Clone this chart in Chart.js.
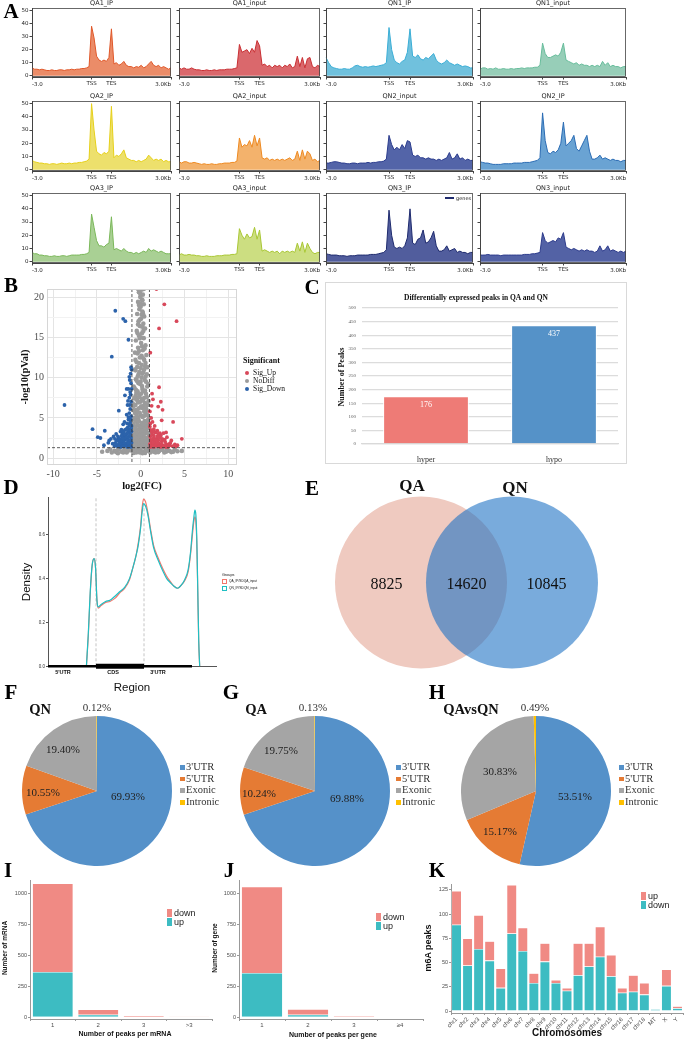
<!DOCTYPE html>
<html>
<head>
<meta charset="utf-8">
<title>m6A peaks figure</title>
<script src="https://cdn.jsdelivr.net/npm/chart.js@4.4.1/dist/chart.umd.min.js"></script>
<style>
  body { margin: 0; background: #fff; }
  #fig { position: relative; width: 685px; height: 1042px; overflow: hidden; background: #fff; }
  #fig canvas { position: absolute; }
  .t { position: absolute; white-space: nowrap; line-height: 1; color: #111; }
  .serif { font-family: "Liberation Serif", "Times New Roman", serif; }
  .sans { font-family: "Liberation Sans", Arial, sans-serif; }
  .dv { font-family: "DejaVu Sans", sans-serif; }
  .box { position: absolute; box-sizing: border-box; }
</style>
</head>
<body>
<div id="fig"></div>
<script>
// --- Panel A: metagene profiles (57 bins, -3.0kb .. TSS .. TES .. 3.0Kb) ---
const profTickIdx = [0, 24, 32, 56];
const profTickText = ["-3.0", "TSS", "TES", "3.0Kb"];
const profYTicks = [0, 10, 20, 30, 40, 50];

const qa1IP = [6,5,5,4.5,5,4.5,4,4,4.5,4,4,4.5,4.5,4,4.5,4.5,5,4.5,5,5,5.5,5.5,6,7,
  38,29,15,12,11,12,11,14,36,
  9,10,8,9,11,8,7,7,6,7,6.5,8,6,7,9,11,8,7,8,6,7,6,5,6];
const qa1Input = [6,5,6,5,5,6,5,4.5,4.5,4,4,4.5,4,4,4.5,4,4.5,4.5,4.5,5,5,5,5.5,6,
  24,18,19,20,17,21,18,27,23,
  8,9,7,8,6,8,7,8,6,8,7,9,6,7,15,7,14,6,13,14,7,6,8,7];
const qn1IP = [14,10,7,6,5.5,5,5,5.5,5,5,6,7.5,8,7,6.5,7,6.5,7,7.5,7,7.5,8,8.5,10,
  37,20,12,10,9,11,12,18,36,
  15,14,16,13,12,14,13,15,17,12,10,9,10,12,10,9,8,9,8,7,7.5,7,6,6];
const qn1Input = [5,6,6,5,5.5,5,6,5,5,5.5,5,5,5.5,5,5.5,5.5,6,5.5,6,6,6,6.5,6.5,8,
  25,17,14,14,15,16,15,18,25,
  12,11,10,9,10,8,9,8,8,7,8,7,8,7,11,8,10,7,8,7,7,6,7,7];
const qa2IP = [7,6,5.5,5,5,4.5,4.5,4,4.5,4.5,4,4.5,5,4.5,4.5,5,4.5,5,5,5.5,5.5,6,6.5,8,
  50,30,14,12,11,13,12,14,48,
  9,11,10,12,15,9,8,7,7,6,7,6,7,8,11,9,7,8,7,8,6,7,6,6];
const qa2Input = [6,5,6,6,5,5,5.5,5,4.5,4,4.5,4,4,4.5,4,4,4.5,4.5,5,5,5,5.5,5.5,6.5,
  24,17,19,18,22,17,26,18,24,
  9,8,9,7,8,7,8,7,8,7,8,9,7,8,14,7,15,8,14,12,7,8,6,7];
const qn2Input = [5,5,5.5,6,6,5.5,5,5,4.5,4.5,5,5,4.5,5,5,5,5.5,5,5.5,5.5,6,6,6.5,8,
  26,19,15,17,15,19,16,22,21,
  11,10,11,9,9,8,9,8,8,7,8,7,8,9,13,8,9,12,8,9,7,8,7,7];
const qn2IP = [6,5.5,5,5,4.5,4,4,4,4,4.5,4.5,4.5,4.5,5,5,5,5,5.5,5.5,5.5,6,6.5,7,9,
  43,22,13,12,14,13,15,20,36,
  18,20,22,26,16,14,18,22,26,14,8,8,9,11,8,9,8,7,8,7,7,6,7,7];
const qa3IP = [7,6,6,5,5,4.5,4.5,4,4,4.5,4,4,4.5,4.5,4,4.5,5,5,5,5,5.5,5.5,6,7,
  36,26,16,12,12,11,13,14,34,
  9,10,9,8,10,8,7,7,6,7,6,7,8,7,10,8,9,8,7,8,7,6,6,6];
const qa3Input = [5,6,5,5,5.5,5,5,4.5,4.5,4,4,4.5,4,4,4,4.5,4.5,4.5,5,5,5,5.5,5.5,6,
  25,20,17,21,18,19,26,17,24,
  8,9,8,7,8,7,8,6,8,7,8,7,8,7,14,8,15,7,14,10,7,6,7,7];
const qn3IP = [6,5.5,5,5,5,4.5,4.5,4.5,4,4.5,4.5,4.5,5,5,5,5,5,5.5,5.5,5.5,6,6.5,7,9,
  39,20,11,10,11,10,12,18,40,
  14,13,17,18,24,14,15,18,23,12,8,8,9,12,8,9,10,7,8,7,7,6,7,7];
const qn3Input = [5,5,5,5.5,5,5,5,5,4.5,5,5,5,5,5,5,5,5,5.5,5.5,5.5,6,6,6.5,7,
  22,16,14,15,16,15,18,17,22,
  11,10,9,10,9,8,9,8,9,8,8,7,8,12,8,9,12,8,9,8,7,8,7,8];

// --- Panel B: volcano ---
const volUp = [[1.1,1.4],[1.3,1.7],[1.5,1.4],[1.7,1.6],[1.9,1.5],[2.1,1.8],[2.3,1.4],[2.5,1.6],[2.7,1.5],[2.9,1.7],
  [3.1,1.4],[3.3,1.6],[3.6,1.5],[3.9,1.7],[4.2,1.6],[1.2,2.0],[1.4,2.3],[1.6,2.1],[1.8,2.4],[2.0,2.2],
  [2.2,2.5],[2.4,2.1],[2.6,2.3],[2.8,2.0],[3.0,2.6],[1.1,2.7],[1.3,3.0],[1.5,2.8],[1.7,3.2],[2.0,3.0],
  [2.3,2.8],[2.6,3.1],[4.7,2.4],[3.7,4.5],[2.4,4.7],[1.6,4.0],[1.2,5.0],[1.5,3.6],[2.5,6.0],[2.0,6.4],
  [2.3,7.0],[1.4,7.3],[1.3,8.0],[2.1,8.8],[1.1,13.1],[2.1,16.1],[2.7,19.1],[4.1,17.0],[1.8,21.0],[1.1,4.3],
  [1.2,1.55],[1.6,1.75],[2.2,1.55],[3.4,1.9],[1.9,2.7],[1.15,3.5],
  [1.05,1.75],[1.35,1.45],[1.45,1.9],[1.85,1.85],[2.05,1.45],[2.35,1.75],[2.6,1.45],[2.85,1.4],[3.2,1.75],[1.15,2.3],
  [1.5,2.55],[1.75,2.25],[2.1,2.6],[2.45,2.4],[2.75,2.3],[1.25,3.3],[1.55,3.25],[1.9,3.4],[2.2,3.1],[1.05,3.9],
  [1.35,4.5],[1.05,5.8],[1.25,6.5],[3.5,2.2],[4.0,1.45],[2.9,3.2]];
const volDown = [[-1.1,1.4],[-1.3,1.6],[-1.5,1.4],[-1.7,1.7],[-1.9,1.5],[-2.1,1.8],[-2.3,1.4],[-2.5,1.7],[-2.7,1.5],[-2.9,1.9],
  [-1.2,2.0],[-1.4,2.2],[-1.6,1.9],[-1.8,2.3],[-2.0,2.1],[-2.2,2.4],[-2.4,2.0],[-2.6,2.3],[-1.1,2.5],[-1.3,2.7],
  [-1.5,2.5],[-1.7,2.9],[-1.9,2.6],[-2.1,3.0],[-1.2,3.1],[-1.4,3.3],[-1.6,3.0],[-1.8,3.5],[-1.1,3.7],[-1.3,4.0],
  [-1.5,3.8],[-1.2,4.4],[-1.4,4.8],[-1.1,5.2],[-1.3,5.6],[-1.6,5.4],[-1.2,6.1],[-1.5,6.6],[-1.1,7.0],[-1.3,7.5],
  [-1.8,7.8],[-1.2,8.2],[-1.6,8.6],[-1.4,8.6],[-1.1,9.3],[-1.05,11.0],[-1.1,11.3],[-1.3,10.1],
  [-2.9,18.3],[-2.0,17.3],[-1.75,17.0],[-1.4,14.7],[-3.3,12.6],[-8.7,6.6],[-2.5,5.9],[-5.5,3.6],[-4.1,3.4],
  [-4.9,2.6],[-4.6,2.5],[-3.4,2.4],[-3.7,1.9],[-4.2,1.6],[-3.1,2.7],[-2.3,3.3],[-2.8,3.0],[-3.0,1.5],[-2.0,4.2],
  [-1.25,1.5],[-1.65,1.55],[-2.15,1.5],[-2.45,1.95],[-1.55,2.35],[-1.95,3.3],[-2.6,2.7],[-1.15,4.8],
  [-1.05,1.9],[-1.35,1.45],[-1.45,1.85],[-1.85,1.85],[-2.05,1.45],[-2.35,1.75],[-2.55,1.45],[-2.8,1.7],[-1.15,2.25],[-1.45,2.6],
  [-1.75,2.55],[-2.05,2.45],[-2.3,2.15],[-2.5,2.45],[-2.75,2.2],[-1.25,2.85],[-1.55,3.15],[-1.85,2.95],[-2.2,2.75],[-1.05,3.3],
  [-1.35,3.55],[-1.65,3.6],[-2.2,3.55],[-1.25,4.2],[-1.55,4.3],[-1.05,4.0],[-1.85,4.5],[-1.4,5.1],[-1.25,6.6],[-1.45,7.1],
  [-1.15,7.9],[-1.05,8.6],[-1.25,9.7],[-1.15,10.5],[-3.2,1.8],[-2.95,2.4],[-3.6,2.2]];
const volNoDiff = [[0.1,20.9],[-0.2,20.6],[0.25,20.3],[-0.05,20.0],[0.15,19.7],[-0.3,19.4],[0.35,19.1],[0.0,18.8],[-0.15,18.5],[0.2,18.2],
  [-0.4,17.9],[0.4,17.6],[0.05,17.3],[-0.25,17.0],[0.3,16.7],[-0.1,16.4],[0.5,16.1],[-0.45,15.8],[0.15,15.5],[-0.2,15.2],
  [0.35,14.9],[-0.55,14.6],[0.05,14.3],[0.55,14.0],[-0.3,13.7],[0.25,13.4],[-0.65,13.1],[0.65,12.8],[-0.1,12.5],[0.4,12.2],
  [-0.45,11.9],[0.1,11.6],[0.75,11.3],[-0.7,11.0],[0.3,10.7],[-0.25,10.4],[0.55,10.1],[-0.55,9.8],[0.0,9.5],[0.85,9.2],
  [-0.8,8.9],[0.2,8.6],[-0.35,8.3],[0.6,8.0],[-0.6,7.7],[0.1,7.4],[0.9,7.1],[-0.9,6.8],[0.35,6.5],[-0.2,6.2],
  [0.7,5.9],[-0.65,5.6],[0.05,5.3],[0.95,5.0],[-0.95,4.8],[0.45,4.6],[-0.4,4.4],[0.8,4.2],[-0.75,4.0],[0.15,3.8],
  [-0.15,3.6],[0.6,3.4],[-0.55,3.2],[0.95,3.0],[-0.9,2.9],[0.3,2.8],[-0.3,2.6],[0.75,2.5],[-0.7,2.4],[0.05,2.3],
  [0.5,2.1],[-0.5,2.0],[0.9,1.9],[-0.85,1.8],[0.2,1.7],[-0.2,1.6],[0.65,1.5],[-0.65,1.45],[0.4,1.35],[-0.4,1.3],
  [-0.95,1.4],[0.95,1.4],[-0.1,1.9],[0.1,2.6],[-0.45,2.9],[0.55,3.1],[-0.8,3.5],[0.35,3.9],[-0.35,4.1],[0.7,4.5],
  [-0.6,4.7],[0.2,5.1],[-0.3,5.0],[0.55,5.5],[-0.5,6.0],[0.25,6.2],[-0.85,6.4],[0.8,6.6],[0.0,7.0],[-0.4,7.2],
  [0.45,7.5],[-0.15,7.9],[0.3,8.3],[-0.55,8.5],[0.75,8.9],[-0.05,9.2],[0.45,9.7],[-0.35,10.1],[0.2,10.5],[-0.6,10.9],
  [0.5,11.4],[-0.2,11.8],[0.3,12.4],[-0.35,13.0],[0.15,13.9],[-0.1,14.9],[0.3,15.8],[-0.3,16.6],[0.1,17.8],[0.0,19.2],
  [-0.05,20.4],[0.12,21.0],[-0.3,21.0],[0.35,21.0],
  [-0.75,1.6],[-0.55,1.7],[-0.3,1.8],[0.05,1.5],[0.3,1.55],[0.55,1.75],[0.8,1.6],[-0.9,2.1],[-0.6,2.2],[-0.35,2.3],
  [-0.15,2.1],[0.15,2.0],[0.35,2.25],[0.65,2.2],[0.85,2.35],[-0.8,2.7],[-0.55,2.6],[-0.1,2.75],[0.45,2.6],[0.9,2.65],
  [-0.65,3.0],[-0.3,3.1],[0.0,2.95],[0.25,3.2],[0.75,3.15],[-0.95,3.6],[-0.45,3.5],[0.0,3.4],[0.4,3.45],[0.8,3.7],
  [-0.6,3.85],[-0.05,4.0],[0.55,3.95],[-0.85,4.3],[0.1,4.35],[0.35,4.2],[-0.2,4.6],[0.85,4.75],[-0.75,5.0],[-0.45,5.25],
  [0.35,5.2],[0.75,5.35],[-0.1,5.6],[0.4,5.8],[-0.35,5.75],[-0.8,5.95],[0.6,6.2],[0.05,6.45],[-0.6,6.6],[0.5,6.85],
  [-0.3,6.9],[0.25,7.2],[-0.75,7.4],[0.7,7.6],[-0.2,7.6],[0.05,8.0],[-0.5,8.1],[0.5,8.4],[-0.7,8.7],[0.15,8.95],
  [-0.25,9.3],[0.6,9.5],[-0.45,9.6],[0.1,10.0],[0.7,10.4],[-0.15,10.7],[0.4,11.0],[-0.4,11.3],[0.0,11.2],[0.55,11.8],
  [-0.6,12.2],[0.1,12.7],[-0.2,13.3],[0.45,13.6],[0.0,15.0],[-0.35,15.5],[0.2,16.3],[-0.1,17.2],[0.25,18.0],[-0.2,19.0],[0.2,19.6],
  [-3.0,0.9],[-2.6,1.05],[-2.2,0.8],[-1.8,1.1],[-1.5,0.85],[-1.2,1.0],[-0.9,0.8],[-0.6,1.1],[-0.3,0.9],[0.0,1.0],
  [0.3,0.8],[0.6,1.1],[0.9,0.9],[1.2,1.0],[1.5,0.8],[1.8,1.1],[2.1,0.9],[2.5,1.0],[2.9,0.8],[3.3,0.9],
  [-2.4,1.2],[-1.0,1.2],[1.0,1.2],[2.3,1.2],[-4.4,0.8],[3.7,0.8],[4.7,0.9],[-3.5,1.1],[3.9,1.1],[-0.1,0.7],
  [0.5,0.65],[-0.5,0.7],[-2.0,0.7],[1.7,0.7],[-1.4,1.25],[1.4,1.25],
  [-3.3,0.7],[-2.8,0.75],[-1.6,0.7],[-0.8,0.65],[0.2,0.6],[1.1,0.7],[2.0,0.75],[2.7,0.7],[3.5,0.75],[-3.8,0.9],
  [4.2,0.85],[-1.9,0.95],[1.3,0.95],[-0.7,0.95],[0.7,0.95],[-2.6,0.6],[3.0,1.1]];
const fcCut = [-1, 1];
const pCut = 1.3;
const volXTicks = [-10, -7.5, -5, -2.5, 0, 2.5, 5, 7.5, 10];
const volYTicks = [0, 2.5, 5, 7.5, 10, 12.5, 15, 17.5, 20];

// --- Panel C ---
const degCats = ["hyper", "hypo"];
const degValues = [176, 437];

// --- Panel D: density over transcript regions ---
const regionEdges = [0, 1, 2, 3];
const regionNames = ["5'UTR", "CDS", "3'UTR"];
const densX = [0.80,0.84,0.88,0.92,0.96,0.99,1.02,1.05,1.10,1.20,1.29,1.40,1.50,1.60,1.70,1.77,1.83,1.88,1.93,1.96,
  1.99,2.03,2.08,2.14,2.20,2.30,2.40,2.47,2.55,2.62,2.70,2.78,2.85,2.92,2.97,3.01,3.04,3.06,3.08,3.10,3.12,3.14,3.16];
const qnDens = [0,0.15,0.34,0.46,0.49,0.45,0.30,0.27,0.28,0.295,0.30,0.32,0.34,0.36,0.40,0.45,0.50,0.55,0.63,0.70,
  0.74,0.73,0.69,0.61,0.54,0.48,0.43,0.40,0.38,0.365,0.355,0.37,0.395,0.44,0.52,0.62,0.68,0.71,0.69,0.58,0.35,0.12,0];
const qaDens = [0,0.14,0.33,0.46,0.49,0.45,0.30,0.265,0.275,0.29,0.295,0.31,0.335,0.355,0.395,0.45,0.50,0.56,0.64,0.72,
  0.76,0.75,0.70,0.62,0.55,0.49,0.44,0.41,0.385,0.365,0.355,0.37,0.39,0.43,0.51,0.60,0.66,0.68,0.66,0.56,0.34,0.11,0];
const densYTicks = [0, 0.2, 0.4, 0.6];

// --- Panel E: Venn ---
const vennSets = ["QA", "QN"];
const vennCounts = [8825, 14620, 10845];

// --- Panels F-H: peak distribution ---
const pieCats = ["3'UTR", "5'UTR", "Exonic", "Intronic"];
const qnPie = [69.93, 10.55, 19.40, 0.12];
const qaPie = [69.88, 10.24, 19.75, 0.13];
const qavsqnPie = [53.51, 15.17, 30.83, 0.49];

// --- Panels I-K ---
const mrnaCats = ["1", "2", "3", ">3"];
const mrnaUp = [366, 20, 4, 1];
const mrnaDown = [716, 43, 9, 3];
const geneCats = ["1", "2", "3", "\u22654"];
const geneUp = [358, 20, 2, 1];
const geneDown = [699, 45, 5, 2];
const chrCats = ["chr1","chr2","chr3","chr4","chr5","chr6","chr7","chr8","chr9","chr10","chr11","chr12",
  "chr13","chr14","chr15","chr16","chr17","chr18","MT","X","Y"];
const chrDown = [89,47,64,52,24,80,62,29,51,29,21,37,46,56,36,19,20,17,2,26,3];
const chrUp = [35,28,35,20,20,50,24,10,19,3,3,33,24,31,22,5,17,12,0,17,2];
const peakTicks = [0, 250, 500, 750, 1000];
const chrTicks = [0, 25, 50, 75, 100, 125];

// --- setup ---
const serifF = '"Liberation Serif", "Times New Roman", serif';
const sansF = '"Liberation Sans", Arial, sans-serif';
const dvF = '"DejaVu Sans", sans-serif';
Chart.defaults.animation = false;
Chart.defaults.responsive = false;
Chart.defaults.maintainAspectRatio = false;
Chart.defaults.plugins.legend.display = false;
Chart.defaults.plugins.tooltip.enabled = false;
Chart.defaults.font.family = dvF;

const fig = document.getElementById("fig");
const SALMON = "#f08a84", TEAL = "#3dbcc2";
const PIE_COLORS = ["#5591c9", "#e57b34", "#a5a5a5", "#ffc000"];

function addCanvas(x, y, w, h) {
    const c = document.createElement("canvas");
    c.width = w; c.height = h;
    c.style.left = x + "px"; c.style.top = y + "px";
    c.style.width = w + "px"; c.style.height = h + "px";
    fig.appendChild(c);
    return c;
}

function txt(s, x, y, css, o = {}) {
    const d = document.createElement("div");
    d.className = "t " + (o.cls || "serif");
    d.textContent = s;
    d.style.cssText += css;
    d.style.left = x + "px";
    d.style.top = y + "px";
    const ax = o.align === "l" ? "0" : o.align === "r" ? "-100%" : "-50%";
    d.style.transform = `translate(${ax},-50%)` + (o.rot ? ` rotate(${o.rot}deg)` : "");
    fig.appendChild(d);
    return d;
}

function rect(x, y, w, h, css) {
    const d = document.createElement("div");
    d.className = "box";
    d.style.cssText = `left:${x}px;top:${y}px;width:${w}px;height:${h}px;` + css;
    fig.appendChild(d);
    return d;
}

const frame = (color, width = 1) => ({
    id: "frame",
    afterDraw(chart) {
        const a = chart.chartArea, c = chart.ctx;
        c.save();
        c.strokeStyle = color; c.lineWidth = width;
        c.strokeRect(a.left + 0.5, a.top + 0.5, a.right - a.left - 1, a.bottom - a.top - 1);
        c.restore();
    }
});

const pts = arr => arr.map(p => ({ x: p[0], y: p[1] }));

// --- Panel A ---
const colBox = [[32, 171], [179, 320], [326, 473], [480, 626]];
const rowBox = [[8, 77], [101, 171], [193, 263]];
const profiles = [
    { title: "QA1_IP", data: qa1IP, line: "#e0582a", fill: "rgba(233,128,88,0.9)" },
    { title: "QA1_input", data: qa1Input, line: "#c92f33", fill: "rgba(214,88,92,0.9)" },
    { title: "QN1_IP", data: qn1IP, line: "#3aaed6", fill: "rgba(104,190,219,0.95)" },
    { title: "QN1_input", data: qn1Input, line: "#68bd9c", fill: "rgba(145,203,180,0.95)" },
    { title: "QA2_IP", data: qa2IP, line: "#e6d01a", fill: "rgba(236,222,100,0.95)" },
    { title: "QA2_input", data: qa2Input, line: "#ee8a22", fill: "rgba(242,174,100,0.95)" },
    { title: "QN2_input", data: qn2Input, line: "#2c3d8e", fill: "rgba(74,92,163,0.95)" },
    { title: "QN2_IP", data: qn2IP, line: "#2b6cb4", fill: "rgba(98,158,209,0.95)" },
    { title: "QA3_IP", data: qa3IP, line: "#7bb85a", fill: "rgba(164,206,142,0.95)" },
    { title: "QA3_input", data: qa3Input, line: "#a9c734", fill: "rgba(201,220,122,0.95)" },
    { title: "QN3_IP", data: qn3IP, line: "#1f2b6e", fill: "rgba(72,84,152,0.95)" },
    { title: "QN3_input", data: qn3Input, line: "#2e3c8c", fill: "rgba(74,90,160,0.95)" }
];

profiles.forEach((p, k) => {
    const col = k % 4, row = Math.floor(k / 4);
    const [L, R] = colBox[col], [T, B] = rowBox[row];
    const padL = 24, padT = 5, padR = 8, axH = 12;
    const cv = addCanvas(L - padL, T - padT, R - L + padL + padR, B - T + padT + axH);
    new Chart(cv, {
        type: "line",
        data: {
            labels: p.data.map((_, i) => i),
            datasets: [{
                data: p.data, borderColor: p.line, backgroundColor: p.fill,
                borderWidth: 1, fill: "origin", pointRadius: 0, tension: 0,
            }],
        },
        options: {
            layout: { padding: { top: padT, right: padR } },
            scales: {
                x: {
                    afterFit: s => { s.height = axH; },
                    grid: { drawOnChartArea: false, tickLength: 2.5, color: "#444" },
                    border: { color: "#444" },
                    ticks: {
                        autoSkip: false, maxRotation: 0, padding: 1,
                        font: { size: 5.5 }, color: "#222",
                        callback: (v, i) => {
                            const j = profTickIdx.indexOf(i);
                            if (j < 0) return null;
                            return (j === 1 || j === 2) ? profTickText[j] : "";
                        },
                    },
                },
                y: {
                    min: -1, max: 52,
                    afterFit: s => { s.width = padL; },
                    afterBuildTicks: s => { s.ticks = profYTicks.map(v => ({ value: v })); },
                    grid: { drawOnChartArea: false, tickLength: 2.5, color: "#444" },
                    border: { color: "#444" },
                    ticks: { padding: 1, font: { size: 5.5 }, color: "#222", callback: v => col === 0 ? v : "" },
                },
            },
        },
        plugins: [frame("#444", 0.8)],
    });
    txt(p.title, (L + R) / 2, T - 5, "font-size:6.5px;color:#222;", { cls: "dv" });
    txt(profTickText[0], L, B + 7.5, "font-size:5.5px;color:#222;", { cls: "dv", align: "l" });
    txt(profTickText[3], R, B + 7.5, "font-size:5.5px;color:#222;", { cls: "dv", align: "r" });
    if (p.title === "QN3_IP") {
        rect(R - 28, T + 4, 9, 1.5, "background:" + p.line + ";");
        txt("genes", R - 17, T + 5, "font-size:5px;color:#222;", { cls: "dv", align: "l" });
    }
});

// --- Panel B: volcano ---
const volCuts = {
    id: "volCuts",
    afterDatasetsDraw(chart) {
        const { ctx, chartArea: a, scales: { x, y } } = chart;
        ctx.save();
        ctx.strokeStyle = "#333"; ctx.lineWidth = 0.8; ctx.setLineDash([3, 2]);
        fcCut.forEach(v => {
            const px = x.getPixelForValue(v);
            ctx.beginPath(); ctx.moveTo(px, a.top); ctx.lineTo(px, a.bottom); ctx.stroke();
        });
        const py = y.getPixelForValue(pCut);
        ctx.beginPath(); ctx.moveTo(a.left, py); ctx.lineTo(a.right, py); ctx.stroke();
        ctx.restore();
    }
};
const gridCol = c => (c.tick && c.tick.value % 5 === 0) ? "#e4e4e4" : "#f2f2f2";
new Chart(addCanvas(0, 280, 300, 201), {
    type: "scatter",
    data: {
        datasets: [
            { data: pts(volUp), backgroundColor: "#d8485a", pointRadius: 1.9, borderWidth: 0 },
            { data: pts(volDown), backgroundColor: "#2c63ab", pointRadius: 1.9, borderWidth: 0 },
            { data: pts(volNoDiff), backgroundColor: "#9b9b9b", pointRadius: 2.3, borderWidth: 0 },
        ],
    },
    options: {
        layout: { padding: { top: 6, right: 63 } },
        scales: {
            x: {
                type: "linear", min: -10.7, max: 11,
                afterFit: s => { s.height = 16; },
                afterBuildTicks: s => { s.ticks = volXTicks.map(v => ({ value: v })); },
                grid: { color: gridCol, drawTicks: false },
                border: { display: false },
                ticks: { padding: 3, font: { family: serifF, size: 10 }, color: "#4d4d4d", callback: v => v % 5 === 0 ? v : "" },
            },
            y: {
                min: -0.85, max: 21,
                afterFit: s => { s.width = 47; },
                afterBuildTicks: s => { s.ticks = volYTicks.map(v => ({ value: v })); },
                grid: { color: gridCol, drawTicks: false },
                border: { display: false },
                ticks: { padding: 3, font: { family: serifF, size: 10 }, color: "#4d4d4d", callback: v => v % 5 === 0 ? v : "" },
            },
        },
    },
    plugins: [frame("#d6d6d6"), volCuts],
});
txt("-log10(pVal)", 25, 377, "font-size:10.5px;font-weight:bold;", { rot: -90 });
txt("log2(FC)", 142, 486, "font-size:10.5px;font-weight:bold;");
txt("Significant", 243, 361, "font-size:8px;font-weight:bold;", { align: "l" });
[["Sig_Up", "#d8485a"], ["NoDiff", "#9b9b9b"], ["Sig_Down", "#2c63ab"]].forEach((e, i) => {
    rect(245, 371 + i * 8, 4, 4, "border-radius:50%;background:" + e[1] + ";");
    txt(e[0], 253, 373 + i * 8, "font-size:7.5px;", { align: "l" });
});

// --- Panel C ---
const barValues = {
    id: "barValues",
    afterDatasetsDraw(chart) {
        const ctx = chart.ctx, meta = chart.getDatasetMeta(0);
        ctx.save();
        ctx.font = "8px " + serifF; ctx.fillStyle = "#fff";
        ctx.textAlign = "center"; ctx.textBaseline = "middle";
        meta.data.forEach((bar, i) => ctx.fillText(String(degValues[i]), bar.x, bar.y + 9));
        ctx.restore();
    }
};
rect(325, 282, 302, 182, "border:1px solid #d9d9d9;");
new Chart(addCanvas(325, 282, 302, 182), {
    type: "bar",
    data: {
        labels: degCats,
        datasets: [{
            data: degValues, backgroundColor: ["#ee7b76", "#5592c8"],
            borderColor: "#fff", borderWidth: 1, barPercentage: 0.67, categoryPercentage: 1,
        }],
    },
    options: {
        layout: { padding: { top: 26, right: 9 } },
        scales: {
            x: {
                afterFit: s => { s.height = 20; },
                grid: { display: false },
                border: { color: "#d9d9d9", width: 1.3 },
                ticks: { padding: 3, font: { family: serifF, size: 8 }, color: "#333" },
            },
            y: {
                min: 0, max: 500,
                afterFit: s => { s.width = 37; },
                grid: { color: "#dcdcdc", lineWidth: 1.3, drawTicks: false },
                border: { display: false },
                ticks: { stepSize: 50, padding: 6, font: { family: serifF, size: 5 }, color: "#595959" },
            },
        },
    },
    plugins: [barValues],
});
txt("Differentially expressed peaks in QA and QN", 476, 298, "font-size:7.5px;font-weight:bold;");
txt("Number of  Peaks", 342, 377, "font-size:8px;font-weight:bold;", { rot: -90 });

// --- Panel D ---
const regionDash = {
    id: "regionDash",
    beforeDatasetsDraw(chart) {
        const { ctx, chartArea: a, scales: { x, y } } = chart;
        ctx.save();
        ctx.strokeStyle = "#c4c4c4"; ctx.lineWidth = 1; ctx.setLineDash([3, 2]);
        [regionEdges[1], regionEdges[2]].forEach(v => {
            const px = x.getPixelForValue(v);
            ctx.beginPath(); ctx.moveTo(px, y.getPixelForValue(0)); ctx.lineTo(px, a.top); ctx.stroke();
        });
        ctx.restore();
    }
};
const regionSeg = (i, w) => ({
    data: [{ x: regionEdges[i], y: 0 }, { x: regionEdges[i + 1], y: 0 }],
    borderColor: "#000", borderWidth: w, pointRadius: 0, clip: false, borderCapStyle: "butt",
});
new Chart(addCanvas(0, 490, 300, 180), {
    type: "line",
    data: {
        datasets: [
            regionSeg(0, 2.6), regionSeg(1, 5), regionSeg(2, 2.6),
            { data: densX.map((x, i) => ({ x, y: qnDens[i] })), borderColor: "#1fbfc3", borderWidth: 1.2, pointRadius: 0, cubicInterpolationMode: "monotone" },
            { data: densX.map((x, i) => ({ x, y: qaDens[i] })), borderColor: "#f3776d", borderWidth: 1.2, pointRadius: 0, cubicInterpolationMode: "monotone" },
        ],
    },
    options: {
        layout: { padding: { top: 7, right: 84 } },
        scales: {
            x: {
                type: "linear", min: 0, max: 3.5,
                afterFit: s => { s.height = 3; },
                ticks: { display: false }, grid: { display: false },
                border: { color: "#555" },
            },
            y: {
                min: 0, max: 0.77,
                afterFit: s => { s.width = 48; },
                afterBuildTicks: s => { s.ticks = densYTicks.map(v => ({ value: v })); },
                grid: { drawOnChartArea: false, tickLength: 2, color: "#555" },
                border: { color: "#555" },
                ticks: { padding: 1, font: { family: sansF, size: 4.5 }, color: "#333", callback: v => v.toFixed(1) },
            },
        },
    },
    plugins: [regionDash],
});
txt("Density", 27, 582, "font-size:11.5px;", { cls: "sans", rot: -90 });
txt("Region", 132, 688, "font-size:11.5px;", { cls: "sans" });
[63, 113, 158].forEach((x, i) => txt(regionNames[i], x, 673, "font-size:5.5px;font-weight:bold;", { cls: "sans" }));
txt("Groups", 222, 576, "font-size:3.8px;", { cls: "sans", align: "l" });
rect(222, 579, 5, 4.5, "border:0.8px solid #f3776d;");
rect(222, 586, 5, 4.5, "border:0.8px solid #1fbfc3;");
txt("QA_IP/SDQA_input", 229, 581.5, "font-size:3.2px;", { cls: "sans", align: "l" });
txt("QN_IP/SDQN_input", 229, 588.5, "font-size:3.2px;", { cls: "sans", align: "l" });

// --- Panel E: Venn ---
// chart area is the canvas inset by the layout padding (90px), so the scales map onto that inner box
const vennX = [0, 1];
const vennLabelX = [-0.38, 0.5, 1.38];
const vennText = {
    id: "vennText",
    afterDatasetsDraw(chart) {
        const { ctx, scales: { x, y } } = chart;
        ctx.save();
        ctx.font = "16px " + serifF; ctx.fillStyle = "#111";
        ctx.textAlign = "center"; ctx.textBaseline = "middle";
        vennCounts.forEach((n, i) => ctx.fillText(String(n), x.getPixelForValue(vennLabelX[i]), y.getPixelForValue(0) + 2));
        ctx.restore();
    }
};
new Chart(addCanvas(320, 490, 300, 185), {
    type: "bubble",
    data: {
        datasets: [
            { data: [{ x: vennX[1], y: 0, r: 86 }], backgroundColor: "rgba(24,110,195,0.58)", borderWidth: 0, clip: false },
            { data: [{ x: vennX[0], y: 0, r: 86 }], backgroundColor: "#efcac0", borderWidth: 0, clip: false },
        ],
    },
    options: {
        layout: { padding: 90 },
        scales: {
            x: { type: "linear", min: -0.121, max: 1.198, display: false },
            y: { type: "linear", min: -1, max: 1, display: false },
        },
    },
    plugins: [vennText],
});
txt(vennSets[0], 412, 485, "font-size:17px;font-weight:bold;");
txt(vennSets[1], 515, 487, "font-size:17px;font-weight:bold;");

// --- Panels F-H: pies ---
const pies = [
    { data: qnPie, cx: 97, title: "QN", tx: 40, small: 97, lab: [[128, 796], [43, 792], [63, 749]], lx: 180 },
    { data: qaPie, cx: 315, title: "QA", tx: 256, small: 313, lab: [[347, 798], [259, 793], [281, 750]], lx: 396 },
    { data: qavsqnPie, cx: 536, title: "QAvsQN", tx: 471, small: 535, lab: [[575, 796], [500, 831], [500, 771]], lx: 619 },
];
pies.forEach(p => {
    new Chart(addCanvas(p.cx - 75, 791 - 75, 150, 150), {
        type: "pie",
        data: { labels: pieCats, datasets: [{ data: p.data, backgroundColor: PIE_COLORS, borderWidth: 0 }] },
        options: { layout: { padding: 0 } },
    });
    txt(p.title, p.tx, 709, "font-size:14.5px;font-weight:bold;");
    txt(p.data[3].toFixed(2) + "%", p.small, 707, "font-size:11px;color:#333;");
    p.lab.forEach((xy, i) => txt(p.data[i].toFixed(2) + "%", xy[0], xy[1], "font-size:11px;color:#222;"));
    pieCats.forEach((c, i) => {
        rect(p.lx, 765 + i * 11.7, 4.5, 4.5, "background:" + PIE_COLORS[i] + ";");
        txt(c, p.lx + 6, 767 + i * 11.7, "font-size:10.5px;color:#333;", { align: "l" });
    });
});

// --- Panels I-K: stacked bars ---
function stackChart(cv, labels, bottom, top, o) {
    const ds = (data, color) => ({
        data, backgroundColor: color, borderColor: "rgba(255,255,255,0.8)", borderWidth: 0.6,
        barPercentage: o.bp, categoryPercentage: 1,
    });
    return new Chart(cv, {
        type: "bar",
        data: { labels, datasets: [ds(bottom, TEAL), ds(top, SALMON)] },
        options: {
            layout: { padding: { top: o.padT, right: o.padR } },
            scales: {
                x: {
                    stacked: true,
                    afterFit: s => { s.height = o.axH; },
                    grid: { drawOnChartArea: false, tickLength: 2, color: "#999" },
                    border: { color: "#999" },
                    ticks: { autoSkip: false, minRotation: o.rot, maxRotation: o.rot, padding: 1, font: { family: sansF, size: o.xFont }, color: "#4d4d4d" },
                },
                y: {
                    stacked: true, min: o.min, max: o.max,
                    afterFit: s => { s.width = o.axW; },
                    afterBuildTicks: s => { s.ticks = o.yTicks.map(v => ({ value: v })); },
                    grid: { drawOnChartArea: false, tickLength: 2, color: "#999" },
                    border: { color: "#999" },
                    ticks: { padding: 1, font: { family: sansF, size: 5.5 }, color: "#4d4d4d", callback: v => String(v) },
                },
            },
        },
    });
}
stackChart(addCanvas(0, 870, 222, 162), mrnaCats, mrnaUp, mrnaDown,
    { bp: 0.9, padT: 10, padR: 10, axH: 13, axW: 30, min: -15, max: 1110, yTicks: peakTicks, rot: 0, xFont: 6 });
stackChart(addCanvas(209, 870, 224, 162), geneCats, geneUp, geneDown,
    { bp: 0.9, padT: 10, padR: 10, axH: 13, axW: 30, min: -15, max: 1110, yTicks: peakTicks, rot: 0, xFont: 6 });
stackChart(addCanvas(420, 870, 265, 165), chrCats, chrDown, chrUp,
    { bp: 0.92, padT: 14, padR: 2, axH: 22, axW: 31, min: -2, max: 131, yTicks: chrTicks, rot: 45, xFont: 6 });

function legend2(x, y, items, gap) {
    items.forEach((e, i) => {
        rect(x, y + i * gap - 4, 5, 8, "background:" + e[1] + ";");
        txt(e[0], x + 7, y + i * gap, "font-size:9px;color:#222;", { cls: "sans", align: "l" });
    });
}
legend2(167, 913, [["down", SALMON], ["up", TEAL]], 8.5);
legend2(376, 917, [["down", SALMON], ["up", TEAL]], 8.5);
legend2(641, 896, [["up", SALMON], ["down", TEAL]], 8.5);
txt("Number of  mRNA", 5, 948, "font-size:6.5px;font-weight:bold;", { cls: "sans", rot: -90 });
txt("Number of peaks per  mRNA", 125, 1033, "font-size:7px;font-weight:bold;", { cls: "sans" });
txt("Number of  gene", 215, 948, "font-size:6.5px;font-weight:bold;", { cls: "sans", rot: -90 });
txt("Number of peaks per gene", 333, 1034, "font-size:7px;font-weight:bold;", { cls: "sans" });
txt("m6A peaks", 428, 948, "font-size:9px;font-weight:bold;", { cls: "sans", rot: -90 });
txt("Chromosomes", 567, 1033, "font-size:10px;font-weight:bold;", { cls: "sans" });

// --- panel letters ---
[["A", 11, 11], ["B", 11, 285], ["C", 312, 287], ["D", 11, 487], ["E", 312, 488],
 ["F", 11, 692], ["G", 231, 692], ["H", 437, 692], ["I", 8, 870], ["J", 229, 870], ["K", 437, 870]]
    .forEach(l => txt(l[0], l[1], l[2], "font-size:21px;font-weight:bold;color:#000;"));
</script>
</body>
</html>
